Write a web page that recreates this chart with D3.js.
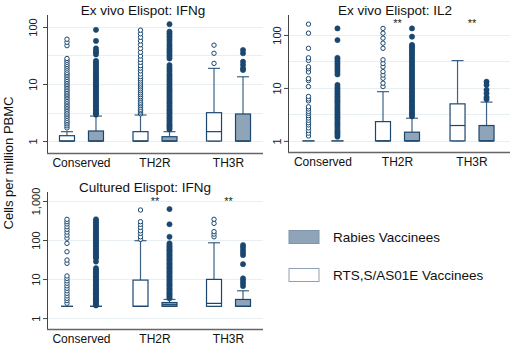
<!DOCTYPE html>
<html><head><meta charset="utf-8">
<script src="https://cdn.jsdelivr.net/npm/d3@7"></script>
<style>body{margin:0;background:#fff;} svg{display:block;font-family:"Liberation Sans",Arial,sans-serif;}</style>
</head><body>
<svg id="chart" width="510" height="347"></svg>
<script>
// ---------- data ----------
const categories = ["Conserved", "TH2R", "TH3R"];
const series = ["RTS,S/AS01E Vaccinees", "Rabies Vaccinees"];
const legendOrder = ["Rabies Vaccinees", "RTS,S/AS01E Vaccinees"];
const panelTitles = ["Ex vivo Elispot: IFNg", "Ex vivo Elispot: IL2", "Cultured Elispot: IFNg"];
const yTitle = "Cells per million PBMC";
const ticksP1 = [1, 10, 100];
const ticksP2 = [1, 10, 100];
const ticksP3 = [1, 10, 100, 1000];
const gridP1 = [1, 3.162, 10, 31.62, 100];
const gridP2 = [1, 3.162, 10, 31.62, 100];
const gridP3 = [1, 10, 100, 1000];
const starsP1 = ["", "", ""];
const starsP2 = ["", "**", "**"];
const starsP3 = ["", "**", "**"];

// box stats per category: [q1, median, q3, whiskerLow, whiskerHigh]
const p1RtsStats = [[1,1,1.24,1,1.46],[1,1,1.46,1,2.86],[1,1.46,3.14,1,18.8]];
const p1RabStats = [[1,1,1.5,1,2.74],[1,1,1.19,1,1.46],[1,1,2.98,1,13.4]];
const p2RtsStats = [[1,1,1,1,1],[1,1,2.31,1,8.5],[1,1.95,5.0,1,32.8]];
const p2RabStats = [[1,1,1,1,1],[1,1,1.46,1,2.68],[1,1,1.95,1,5.4]];
const p3RtsStats = [[2,2,2,2,2],[2,2,9.4,2,96],[2,2.38,9.8,2,85]];
const p3RabStats = [[2,2,2,2,2],[2,2.2,2.5,2,3.0],[2,2,3.0,2,5.0]];

// outliers
const p1RtsConserved = [1.7,1.85,2,2.15,2.3,2.5,2.7,2.9,3.1,3.35,3.6,3.85,4.1,4.4,4.7,5,5.4,5.8,6.2,6.6,7,7.5,8,8.6,9.2,9.8,10.5,11.2,12,13,14,15,16,17.5,19,20.5,22,24,26,28,47,54,61];
const p1RabConserved = [2.9,3.05,3.2,3.4,3.6,3.8,4,4.2,4.5,4.8,5.1,5.4,5.7,6,6.4,6.8,7.2,7.6,8,8.5,9,9.5,10,10.6,11.2,11.8,12.5,13.2,14,15,16,17,18,19.5,21,22.5,24,25.5,33,36,38,42,57,89];
const p1RtsTH2R = [3,3.2,3.4,3.6,3.9,4.2,4.5,4.8,5.2,5.6,6,6.5,7,7.6,8.2,8.9,9.6,10.4,11.3,12.3,13.5,15,17,19,21,24,27,31,36,42,49,57,66,76,88];
const p1RabTH2R = [1.6,1.7,1.8,1.9,2,2.15,2.3,2.45,2.6,2.8,3,3.2,3.4,3.6,3.9,4.2,4.5,4.8,5.1,5.5,5.9,6.3,6.8,7.3,7.8,8.4,9,9.7,10.4,11.2,12,13,14,15,16.5,18,19.5,21.5,28,30.5,33,36,39,42,46,50,55,60,66,72,77,83,112];
const p1RtsTH3R = [23,34.6,48];
const p1RabTH3R = [17.6,18.8,21.6,24.6,34.6,39.5];

const p2RtsConserved = [1.24,1.4,1.57,1.76,2.0,2.2,2.45,2.7,3.0,3.3,3.6,4.0,4.4,5.7,6.2,6.9,10.6,13.8,15,20,23,25,33,37,56,108,160];
const p2RabConserved = [1.2,1.3,1.4,1.5,1.6,1.75,1.9,2.05,2.2,2.4,2.6,2.8,3,3.25,3.5,3.8,4.1,4.4,4.8,5.2,5.6,6,6.5,7,7.6,8.2,8.9,9.6,10.4,11.4,18,20,22,24,26.5,29,32,35,37,80,133];
const p2RtsTH2R = [10.6,12.3,15.2,17.5,20.3,25,29,34,56,70,87,108,133];
const p2RabTH2R = [2.9,3.1,3.3,3.5,3.8,4.1,4.4,4.7,5.1,5.5,5.9,6.4,6.9,7.4,8,8.6,9.3,10,10.8,11.7,12.6,13.6,14.7,15.9,17.2,18.6,20,21.6,23.3,25.2,27.2,29.4,31.7,34.2,37,40,43,46.5,50,54,58,62,65,93,133];
const p2RtsTH3R = [];
const p2RabTH3R = [6.1,6.7,7.9,9.2,11.4,13.1];

const p3RtsConserved = [2.4,2.8,3.2,3.7,4.3,5.0,5.8,6.7,7.8,9.0,10.4,12,25.3,30.7,50,82,111,134,160,188,219,258,295,339];
const p3RabConserved = [2.1,2.25,2.4,2.6,2.8,3,3.2,3.45,3.7,4,4.3,4.6,5,5.4,5.8,6.3,6.8,7.3,7.9,8.5,9.2,10,10.8,11.7,12.6,13.6,14.7,15.9,17.2,19,28,34,37,40,44,48,52,57,62,68,74,81,88,96,105,115,125,137,150,164,180,197,215,235,257,281,307,339];
const p3RtsTH2R = [104,121,148,172,211,253,295,587];
const p3RabTH2R = [3.2,3.45,3.7,4,4.3,4.65,5,5.4,5.8,6.3,6.8,7.3,7.9,8.5,9.2,10,10.8,11.7,12.6,13.6,14.7,15.9,17.2,18.6,20,21.6,23.3,25.2,27.2,29.4,31.7,34.2,37,40,43,46.5,50,54,58,63,68,74,82,121,253,620];
const p3RtsTH3R = [121,142,164,267,339];
const p3RabTH3R = [6.6,7.8,9.0,10.4,24,41,47,55,65,74];

// ---------- styles ----------
const NAVY = "#1a476f";
const BLUEFILL = "#8fa4b9";
const GRID = "#e8eff2";
const FONT = "'Liberation Sans', Arial, sans-serif";

const svg = d3.select("#chart");

function buildBoxes(rtsStats, rabStats, rtsOut, rabOut) {
  const out = [];
  categories.forEach((c, i) => {
    out.push({cat: c, ser: series[0], s: rtsStats[i], outliers: rtsOut[i]});
    out.push({cat: c, ser: series[1], s: rabStats[i], outliers: rabOut[i]});
  });
  return out;
}

const panels = [
  {title: panelTitles[0], x0: 47, x1: 263, xr1: 263, yTop: 15, yBot: 153, dom: [Math.pow(10,-0.21), Math.pow(10,2.21)],
   ticks: ticksP1, grid: gridP1, stars: starsP1, tickLabX: 33, titleX: 143, titleY: 15, starY: 27, catY: 167,
   boxes: buildBoxes(p1RtsStats, p1RabStats, [p1RtsConserved,p1RtsTH2R,p1RtsTH3R], [p1RabConserved,p1RabTH2R,p1RabTH3R])},
  {title: panelTitles[1], x0: 288, x1: 507, xr1: 510, yTop: 15, yBot: 152, dom: [Math.pow(10,-0.21), Math.pow(10,2.377)],
   ticks: ticksP2, grid: gridP2, stars: starsP2, tickLabX: 277, titleX: 395, titleY: 15, starY: 27, catY: 166,
   boxes: buildBoxes(p2RtsStats, p2RabStats, [p2RtsConserved,p2RtsTH2R,p2RtsTH3R], [p2RabConserved,p2RabTH2R,p2RabTH3R])},
  {title: panelTitles[2], x0: 47, x1: 263, xr1: 263, yTop: 192, yBot: 329, dom: [Math.pow(10,-0.28), Math.pow(10,3.23)],
   ticks: ticksP3, grid: gridP3, stars: starsP3, tickLabX: 36, titleX: 145, titleY: 192, starY: 205, catY: 343,
   boxes: buildBoxes(p3RtsStats, p3RabStats, [p3RtsConserved,p3RtsTH2R,p3RtsTH3R], [p3RabConserved,p3RabTH2R,p3RabTH3R])}
];

const BOXW = 15, CAPW = 12;

panels.forEach(p => {
  const g = svg.append("g");
  const y = d3.scaleLog().domain(p.dom).range([p.yBot, p.yTop]);
  const xCat = d3.scalePoint().domain(categories).range([p.x0, p.x1]).padding(0.469);
  const xSer = d3.scalePoint().domain(series).range([-14.5, 14.5]);
  const cx = d => xCat(d.cat) + xSer(d.ser);

  // gridlines
  g.selectAll(".grid").data(p.grid).join("line")
    .attr("x1", p.x0).attr("x2", p.xr1)
    .attr("y1", d => Math.round(y(d)) + 0.5).attr("y2", d => Math.round(y(d)) + 0.5)
    .attr("stroke", GRID).attr("stroke-width", 1);

  // y axis
  const yAxis = d3.axisLeft(y).tickValues(p.ticks).tickSize(4).tickFormat(d3.format(","));
  const ya = g.append("g").attr("transform", `translate(${p.x0},0)`).call(yAxis);
  ya.select(".domain").attr("stroke", "#444").attr("d", `M0.5,${p.yTop}V${p.yBot}`);
  ya.selectAll(".tick line").attr("stroke", "#444");
  ya.selectAll(".tick text").attr("font-family", FONT).attr("font-size", 11).attr("fill", "#222")
    .attr("x", 0).attr("y", 0).attr("dy", null)
    .attr("transform", `translate(${p.tickLabX - p.x0 + 4},0) rotate(-90)`)
    .attr("text-anchor", "middle");

  // x axis line
  g.append("line").attr("x1", p.x0).attr("x2", p.xr1).attr("y1", p.yBot + 0.5).attr("y2", p.yBot + 0.5)
    .attr("stroke", "#666").attr("stroke-width", 1.5);

  // category labels
  g.selectAll(".cat").data(categories).join("text")
    .attr("x", d => xCat(d)).attr("y", p.catY).attr("text-anchor", "middle")
    .attr("font-family", FONT).attr("font-size", 12).attr("fill", "#111").text(d => d);

  // title
  g.append("text").attr("x", p.titleX).attr("y", p.titleY).attr("text-anchor", "middle")
    .attr("font-family", FONT).attr("font-size", 13.5).attr("fill", "#111").text(p.title);

  // stars
  g.selectAll(".star").data(categories).join("text")
    .attr("x", d => xCat(d)).attr("y", p.starY).attr("text-anchor", "middle")
    .attr("font-family", FONT).attr("font-size", 11).attr("fill", "#222")
    .text((d, i) => p.stars[i]);

  // boxes
  const bg = g.selectAll(".box").data(p.boxes).join("g");
  bg.append("line").attr("x1", cx).attr("x2", cx).attr("y1", d => y(d.s[2])).attr("y2", d => y(d.s[4]))
    .attr("stroke", NAVY).attr("stroke-width", 1.2).attr("stroke-opacity", 0.85);
  bg.append("line").attr("x1", cx).attr("x2", cx).attr("y1", d => y(d.s[0])).attr("y2", d => y(d.s[3]))
    .attr("stroke", NAVY).attr("stroke-width", 1.2).attr("stroke-opacity", 0.85);
  bg.append("line").attr("x1", d => cx(d) - CAPW/2).attr("x2", d => cx(d) + CAPW/2)
    .attr("y1", d => y(d.s[4])).attr("y2", d => y(d.s[4]))
    .attr("stroke", NAVY).attr("stroke-width", 1.2).attr("stroke-opacity", 0.85);
  bg.append("line").attr("x1", d => cx(d) - CAPW/2).attr("x2", d => cx(d) + CAPW/2)
    .attr("y1", d => y(d.s[3])).attr("y2", d => y(d.s[3]))
    .attr("stroke", NAVY).attr("stroke-width", 1.2).attr("stroke-opacity", 0.85);
  bg.filter(d => d.s[2] > d.s[0]).append("rect")
    .attr("x", d => cx(d) - BOXW/2).attr("width", BOXW)
    .attr("y", d => y(d.s[2])).attr("height", d => y(d.s[0]) - y(d.s[2]))
    .attr("fill", d => d.ser === series[1] ? BLUEFILL : "#fff")
    .attr("stroke", NAVY).attr("stroke-width", 1.2);
  bg.filter(d => d.s[2] > d.s[0]).append("line")
    .attr("x1", d => cx(d) - BOXW/2).attr("x2", d => cx(d) + BOXW/2)
    .attr("y1", d => y(d.s[1])).attr("y2", d => y(d.s[1]))
    .attr("stroke", NAVY).attr("stroke-width", 1.2);
  bg.each(function(d) {
    const hollow = d.ser === series[0];
    d3.select(this).selectAll("circle").data(d.outliers).join("circle")
      .attr("cx", cx(d)).attr("cy", v => y(v)).attr("r", hollow ? 2.2 : 2.6)
      .attr("fill", hollow ? "#fff" : NAVY)
      .attr("stroke", NAVY).attr("stroke-width", hollow ? 1 : 0.6);
  });
});

// y title
svg.append("text").attr("transform", "translate(13,163) rotate(-90)").attr("text-anchor", "middle")
  .attr("font-family", FONT).attr("font-size", 13).attr("fill", "#111").text(yTitle);

// legend
const leg = svg.append("g");
const legY = d3.scalePoint().domain(legendOrder).range([237, 275]);
leg.selectAll("rect").data(legendOrder).join("rect")
  .attr("x", 289).attr("y", d => legY(d) - 6.5).attr("width", 30).attr("height", 13)
  .attr("fill", d => d === series[1] ? BLUEFILL : "#fff")
  .attr("stroke", d => d === series[1] ? "#7f95aa" : "#8fa0b0").attr("stroke-width", 1);
leg.selectAll("text").data(legendOrder).join("text")
  .attr("x", 333).attr("y", d => legY(d) + 5).attr("font-family", FONT).attr("font-size", 13.5)
  .attr("fill", "#111").text(d => d);
</script>
</body></html>
